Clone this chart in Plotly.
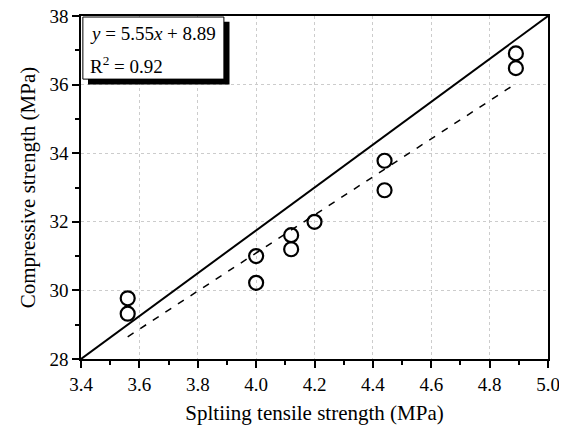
import plotly.graph_objects as go

# Data
tensile = [3.56, 3.56, 4.00, 4.00, 4.12, 4.12, 4.20, 4.44, 4.44, 4.89, 4.89]
compressive = [29.77, 29.32, 31.00, 30.22, 31.61, 31.20, 32.00, 33.78, 32.92, 36.91, 36.48]

fit_slope = 5.55
fit_intercept = 8.89
fit_x = [3.56, 4.89]
fit_y = [fit_slope * v + fit_intercept for v in fit_x]

ref_x = [3.4, 5.0]
ref_y = [28.0, 38.0]

font_family = "Liberation Serif, Times New Roman, serif"

fig = go.Figure()

fig.add_trace(go.Scatter(x=ref_x, y=ref_y, mode="lines",
                         line=dict(color="black", width=2), showlegend=False))
fig.add_trace(go.Scatter(x=fit_x, y=fit_y, mode="lines",
                         line=dict(color="black", width=1.5, dash="7px,8px"),
                         showlegend=False))
fig.add_trace(go.Scatter(x=tensile, y=compressive, mode="markers",
                         marker=dict(symbol="circle-open", size=14,
                                     color="black", line=dict(width=2.2, color="black")),
                         showlegend=False))

# equation box with shadow
fig.add_shape(type="rect", xref="paper", yref="paper",
              x0=0.015, x1=0.318, y0=0.800, y1=0.983,
              fillcolor="black", line=dict(width=0), layer="above")
fig.add_shape(type="rect", xref="paper", yref="paper",
              x0=0.004, x1=0.306, y0=0.816, y1=0.997,
              fillcolor="white", line=dict(color="black", width=1), layer="above")

fig.add_annotation(xref="paper", yref="paper", x=0.014, y=0.95,
                   xanchor="left", yanchor="middle", showarrow=False,
                   text="<i>y</i> = 5.55<i>x</i> + 8.89",
                   font=dict(family=font_family, size=19, color="black"))
fig.add_annotation(xref="paper", yref="paper", x=0.014, y=0.858,
                   xanchor="left", yanchor="middle", showarrow=False,
                   text="R<sup>2</sup> = 0.92",
                   font=dict(family=font_family, size=19, color="black"))

axis_common = dict(
    showline=True, linecolor="black", linewidth=1.5, mirror=True,
    ticks="outside", ticklen=7, tickwidth=1.5, tickcolor="black",
    showgrid=True, gridcolor="#cccccc", griddash="dot", gridwidth=1,
    zeroline=False, ticklabeloverflow="allow", automargin=False,
    tickfont=dict(family=font_family, size=19, color="black"),
)

fig.update_xaxes(range=[3.4, 5.0], dtick=0.2, tick0=3.4, tickformat=".1f",
                 minor=dict(dtick=0.1, ticks="outside", ticklen=4, tickwidth=1.5,
                            tickcolor="black", showgrid=False),
                 title=dict(text="Spltiing tensile strength (MPa)", standoff=12,
                            font=dict(family=font_family, size=21, color="black")),
                 **axis_common)
fig.update_yaxes(range=[28, 38], dtick=2, tick0=28,
                 minor=dict(dtick=1, ticks="outside", ticklen=4, tickwidth=1.5,
                            tickcolor="black", showgrid=False),
                 title=dict(text="Compressive strength (MPa)", standoff=8,
                            font=dict(family=font_family, size=21, color="black")),
                 **axis_common)

# page body has an 8px default margin; size the figure to fit the window
fig.update_layout(width=559, height=419,
                  margin=dict(l=73, r=19, t=8, b=68, autoexpand=False),
                  plot_bgcolor="white", paper_bgcolor="white")

fig.write_html("out.html")
